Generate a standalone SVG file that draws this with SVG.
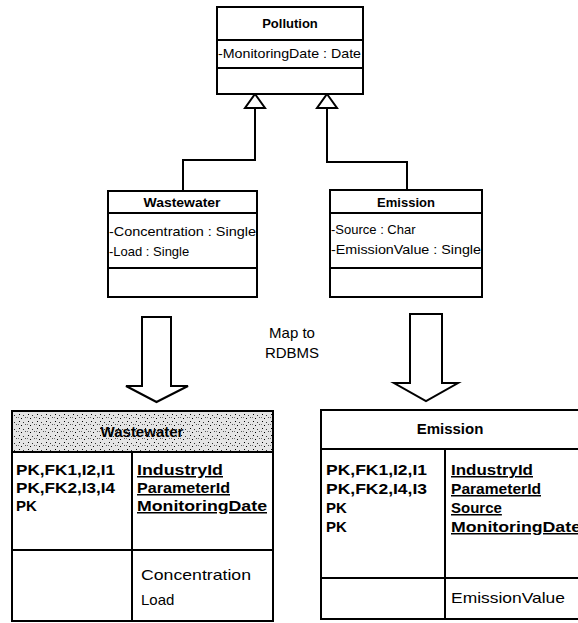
<svg xmlns="http://www.w3.org/2000/svg" width="578" height="623" viewBox="0 0 578 623">
<style>
.box{fill:#fff;stroke:#000;stroke-width:2}
.ln{fill:none;stroke:#000;stroke-width:2}
.t{font-family:"Liberation Sans",Arial,sans-serif;fill:#000}
.ttl{font-size:13px;font-weight:bold;text-anchor:middle}
.att{font-size:13px}
.key{font-size:15px;font-weight:bold}
.uk{font-size:15px;font-weight:bold;text-decoration:underline}
.reg{font-size:15px}
.hd{font-size:15px;font-weight:bold;text-anchor:middle}
.map{font-size:15px;text-anchor:middle}
</style>
<defs>
<pattern id="speck" width="9" height="7" patternUnits="userSpaceOnUse">
<rect width="9" height="7" fill="#e4e4e4"/>
<rect x="1" y="1" width="1" height="1" fill="#000"/>
<rect x="5" y="2" width="1" height="1" fill="#333"/>
<rect x="3" y="5" width="1" height="1" fill="#000"/>
<rect x="7" y="4" width="1" height="1" fill="#555"/>
<rect x="0" y="4" width="1" height="1" fill="#777"/>
</pattern>
</defs>

<g id="connectors">
<polyline class="ln" points="255,108 255,160 183,160 183,191"/>
<polyline class="ln" points="327,108 327,162 407,162 407,190"/>
<polygon class="box" points="255,94 265,108 245,108"/>
<polygon class="box" points="327,94 337,108 317,108"/>
<polygon class="box" stroke-width="2.5" points="142,317 171,317 171,386 188,386 156.5,402 126,386 142,386"/>
<polygon class="box" stroke-width="2.5" points="410,314 442,314 442,383 458,383 426,401 394,383 410,383"/>
</g>

<g id="pollution">
<rect class="box" x="217" y="7" width="146" height="87"/>
<line class="ln" x1="217" y1="40" x2="363" y2="40"/>
<line class="ln" x1="217" y1="68" x2="363" y2="68"/>
<text class="t ttl" x="290" y="28">Pollution</text>
<text class="t att" x="218" y="58" textLength="143" lengthAdjust="spacingAndGlyphs">-MonitoringDate : Date</text>
</g>

<g id="wastewater-class">
<rect class="box" x="108" y="191" width="149" height="106"/>
<line class="ln" x1="108" y1="213" x2="257" y2="213"/>
<line class="ln" x1="108" y1="268" x2="257" y2="268"/>
<text class="t ttl" x="182" y="207" textLength="77" lengthAdjust="spacingAndGlyphs">Wastewater</text>
<text class="t att" x="109" y="236" textLength="147" lengthAdjust="spacingAndGlyphs">-Concentration : Single</text>
<text class="t att" x="109" y="256">-Load : Single</text>
</g>

<g id="emission-class">
<rect class="box" x="330" y="190" width="152" height="107"/>
<line class="ln" x1="330" y1="213" x2="482" y2="213"/>
<line class="ln" x1="330" y1="268" x2="482" y2="268"/>
<text class="t ttl" x="406" y="207" font-size="14">Emission</text>
<text class="t att" x="331" y="234">-Source : Char</text>
<text class="t att" x="331" y="254" textLength="150" lengthAdjust="spacingAndGlyphs">-EmissionValue : Single</text>
</g>

<g id="map-label">
<text class="t map" x="292" y="338">Map to</text>
<text class="t map" x="292" y="358">RDBMS</text>
</g>

<g id="wastewater-table">
<rect class="box" x="12" y="411" width="261" height="210"/>
<rect x="13" y="412" width="259" height="40" fill="url(#speck)"/>
<line class="ln" x1="12" y1="452" x2="273" y2="452"/>
<line class="ln" x1="132" y1="452" x2="132" y2="621"/>
<line class="ln" x1="12" y1="550" x2="273" y2="550"/>
<text class="t hd" x="142" y="437">Wastewater</text>
<text class="t key" x="16" y="475" textLength="99" lengthAdjust="spacingAndGlyphs">PK,FK1,I2,I1</text>
<text class="t key" x="16" y="493" textLength="99" lengthAdjust="spacingAndGlyphs">PK,FK2,I3,I4</text>
<text class="t key" x="16" y="511">PK</text>
<text class="t uk" x="137" y="475" textLength="86" lengthAdjust="spacingAndGlyphs">IndustryId</text>
<text class="t uk" x="137" y="493" textLength="93" lengthAdjust="spacingAndGlyphs">ParameterId</text>
<text class="t uk" x="137" y="511" textLength="130" lengthAdjust="spacingAndGlyphs">MonitoringDate</text>
<text class="t reg" x="141" y="580" textLength="110" lengthAdjust="spacingAndGlyphs">Concentration</text>
<text class="t reg" x="141" y="605">Load</text>
</g>

<g id="emission-table">
<rect class="box" x="321" y="410" width="280" height="209"/>
<line class="ln" x1="321" y1="449" x2="601" y2="449"/>
<line class="ln" x1="445" y1="449" x2="445" y2="619"/>
<line class="ln" x1="321" y1="578" x2="601" y2="578"/>
<text class="t hd" x="450" y="434">Emission</text>
<text class="t key" x="326" y="475" textLength="101" lengthAdjust="spacingAndGlyphs">PK,FK1,I2,I1</text>
<text class="t key" x="326" y="494" textLength="101" lengthAdjust="spacingAndGlyphs">PK,FK2,I4,I3</text>
<text class="t key" x="326" y="513">PK</text>
<text class="t key" x="326" y="532">PK</text>
<text class="t uk" x="451" y="475" textLength="82" lengthAdjust="spacingAndGlyphs">IndustryId</text>
<text class="t uk" x="451" y="494" textLength="90" lengthAdjust="spacingAndGlyphs">ParameterId</text>
<text class="t uk" x="451" y="513">Source</text>
<text class="t uk" x="451" y="532" textLength="130" lengthAdjust="spacingAndGlyphs">MonitoringDate</text>
<text class="t reg" x="451" y="603" textLength="114" lengthAdjust="spacingAndGlyphs">EmissionValue</text>
</g>
</svg>
